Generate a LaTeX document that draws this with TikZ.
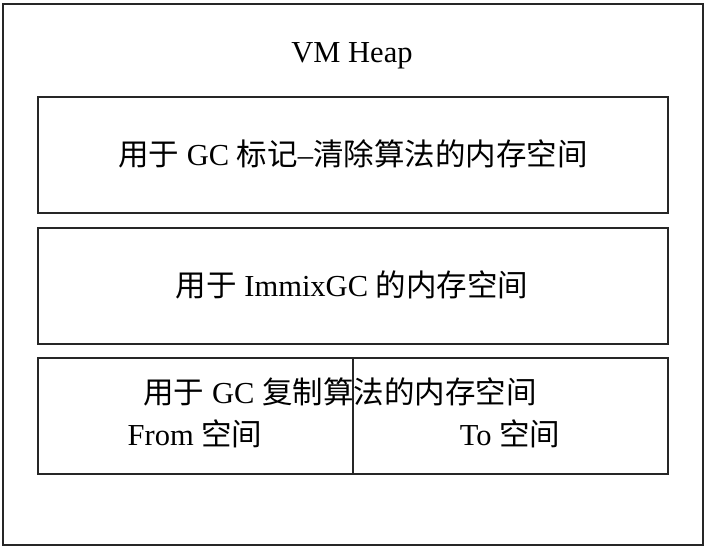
\documentclass[tikz,border=0pt]{standalone}
\usepackage{fontspec}
\setmainfont{Liberation Serif}
\newfontfamily\cjk{Noto Sans CJK SC}
\begin{document}
\begin{tikzpicture}[x=1pt,y=-1pt,
  box/.style={draw=black!85,line width=1.2pt},
  lbl/.style={font=\fontsize{30.5}{33}\selectfont,inner sep=0pt,anchor=center}]
\useasboundingbox (0,0) rectangle (708,550);
\draw[box] (3,4) rectangle (703,545);
\node[lbl] (vm) at (352,56) {VM Heap};
\draw[box] (38,97) rectangle (668,213);
\node[lbl] (t1) at (353,154) {{\cjk 用于} GC {\cjk 标记}–{\cjk 清除算法的内存空间}};
\draw[box] (38,228) rectangle (668,344);
\node[lbl] (t2) at (352,285) {{\cjk 用于} ImmixGC {\cjk 的内存空间}};
\draw[box] (38,358) rectangle (353,474);
\draw[box] (353,358) rectangle (668,474);
\node[lbl] (t3) at (340,392) {{\cjk 用于} GC {\cjk 复制算法的内存空间}};
\node[lbl] (from) at (195,434) {From {\cjk 空间}};
\node[lbl] (to) at (510,434) {To {\cjk 空间}};
\end{tikzpicture}
\end{document}
